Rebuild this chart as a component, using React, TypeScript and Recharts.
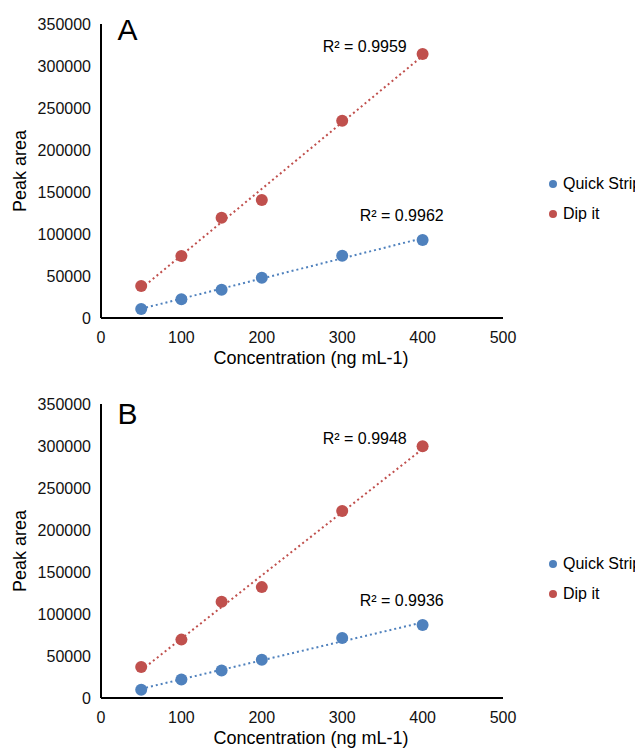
import { ScatterChart, Scatter, XAxis, YAxis, Legend, ReferenceDot, Label } from 'recharts';

const concentrations = [50, 100, 150, 200, 300, 400];

// panel A
const quickStripA = [10700, 22300, 33700, 48000, 74200, 92900];
const dipItA = [38100, 73800, 119400, 140500, 234900, 314300];
const quickTrendA = [11000, 95000];
const dipTrendA = [35000, 312000];
const r2A = ['0.9959', '0.9962'];

// panel B
const quickStripB = [9900, 22100, 32700, 45400, 71500, 87000];
const dipItB = [36800, 69500, 114600, 132000, 222500, 299700];
const quickTrendB = [11000, 90000];
const dipTrendB = [33000, 296500];
const r2B = ['0.9948', '0.9936'];

const trendX = [50, 400];
const xTicks = [0, 100, 200, 300, 400, 500];
const yTicks = [0, 50000, 100000, 150000, 200000, 250000, 300000, 350000];

const BLUE = '#4F81BD';
const RED = '#C0504D';

const toPoints = (xs: number[], ys: number[]) => xs.map((x, i) => ({ x, y: ys[i] }));

const dot = (color: string) => (props: any) => (
    <circle cx={props.cx} cy={props.cy} r={6} fill={color} />
);
const noShape = () => <g />;

function LegendBox() {
    const items = [
        { name: 'Quick Strip', color: BLUE },
        { name: 'Dip it', color: RED },
    ];
    return (
        <div>
            {items.map(it => (
                <div key={it.name} style={{ display: 'flex', alignItems: 'center', height: 30, fontSize: 16, color: '#000' }}>
                    <svg width={8} height={8} style={{ marginRight: 6 }}>
                        <circle cx={4} cy={4} r={4} fill={it.color} />
                    </svg>
                    <span style={{ whiteSpace: 'nowrap' }}>{it.name}</span>
                </div>
            ))}
        </div>
    );
}

function Panel({ letter, letterY, quick, dip, quickTrend, dipTrend, r2, dipLabelY, quickLabelY }: any) {
    const tick = { fill: '#111', fontSize: 16 };
    return (
        <ScatterChart width={635} height={380} margin={{ top: 16, right: 140, bottom: 20, left: 0 }}>
            <XAxis
                type="number"
                dataKey="x"
                domain={[0, 500]}
                ticks={xTicks}
                tick={tick}
                tickLine={false}
                tickSize={0}
                tickMargin={14}
                height={50}
                axisLine={{ stroke: '#000', strokeWidth: 2 }}
            >
                <Label value="Concentration (ng mL-1)" position="insideBottom" offset={4} dx={9} fill="#000" fontSize={18} />
            </XAxis>
            <YAxis
                type="number"
                dataKey="y"
                domain={[0, 350000]}
                ticks={yTicks}
                tick={tick}
                tickLine={false}
                tickSize={0}
                tickMargin={10}
                width={93}
                axisLine={{ stroke: '#000', strokeWidth: 2 }}
            >
                <Label value="Peak area" angle={-90} position="insideLeft" offset={12} fill="#000" fontSize={18} style={{ textAnchor: 'middle' }} />
            </YAxis>
            <Legend
                layout="vertical"
                align="center"
                verticalAlign="middle"
                content={() => <LegendBox />}
                wrapperStyle={{ left: 541, top: 161, width: 'auto', height: 'auto' }}
            />
            <Scatter
                name="quick trend"
                data={toPoints(trendX, quickTrend)}
                line={{ stroke: BLUE, strokeWidth: 2, strokeDasharray: '2 3' }}
                shape={noShape}
                legendType="none"
                isAnimationActive={false}
            />
            <Scatter
                name="dip trend"
                data={toPoints(trendX, dipTrend)}
                line={{ stroke: RED, strokeWidth: 2, strokeDasharray: '2 3' }}
                shape={noShape}
                legendType="none"
                isAnimationActive={false}
            />
            <Scatter name="Quick Strip" data={toPoints(concentrations, quick)} fill={BLUE} shape={dot(BLUE)} isAnimationActive={false} />
            <Scatter name="Dip it" data={toPoints(concentrations, dip)} fill={RED} shape={dot(RED)} isAnimationActive={false} />
            <ReferenceDot x={33} y={letterY} r={0} fill="none" stroke="none"
                label={{ value: letter, position: 'center', fill: '#000', fontSize: 30 }} />
            <ReferenceDot x={328} y={dipLabelY} r={0} fill="none" stroke="none"
                label={{ value: 'R² = ' + r2[0], position: 'center', fill: '#000', fontSize: 16 }} />
            <ReferenceDot x={374} y={quickLabelY} r={0} fill="none" stroke="none"
                label={{ value: 'R² = ' + r2[1], position: 'center', fill: '#000', fontSize: 16 }} />
        </ScatterChart>
    );
}

export default function App() {
    return (
        <div style={{ fontFamily: '"Liberation Sans", Arial, sans-serif', width: 635 }}>
            <Panel
                letter="A"
                letterY={344000}
                quick={quickStripA}
                dip={dipItA}
                quickTrend={quickTrendA}
                dipTrend={dipTrendA}
                r2={r2A}
                dipLabelY={323800}
                quickLabelY={122600}
            />
            <Panel
                letter="B"
                letterY={339300}
                quick={quickStripB}
                dip={dipItB}
                quickTrend={quickTrendB}
                dipTrend={dipTrendB}
                r2={r2B}
                dipLabelY={308800}
                quickLabelY={116600}
            />
        </div>
    );
}
